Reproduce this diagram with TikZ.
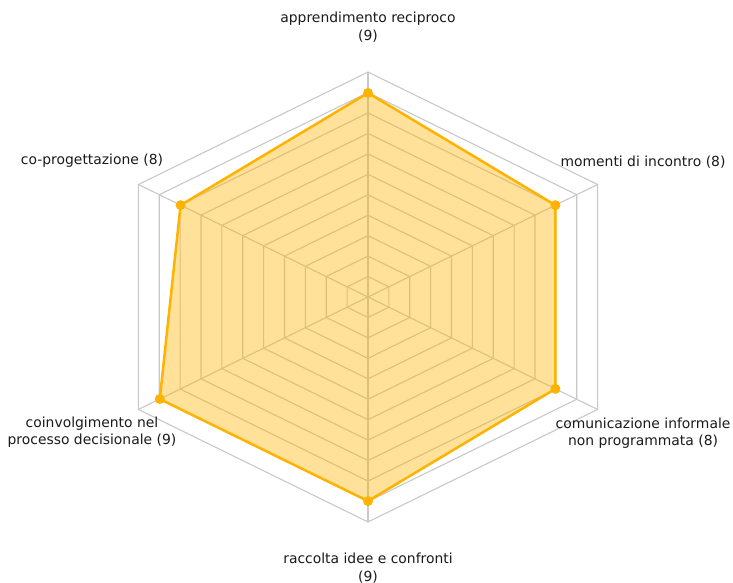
\documentclass[tikz,border=0pt]{standalone}
\usepackage{fontspec}
\setmainfont{DejaVu Sans}
\usepackage{tikz}
\definecolor{radarline}{HTML}{FFB300}
\definecolor{gridgray}{HTML}{C8C8C8}
\definecolor{labelgray}{HTML}{1A1A1A}

\begin{document}
\begin{tikzpicture}[x = 1pt, y = 1pt,
        ring/.style = {draw = gridgray, line width = 1.1pt},
        area/.style = {fill = radarline, fill opacity = 0.4, draw = radarline, draw opacity = 1, line width = 2.5pt, line join = round},
        dot/.style = {circle, fill = radarline, inner sep = 0pt, minimum size = 10pt},
        axislabel/.style = {text = labelgray, font = \fontsize{13.9}{17.5}\selectfont, align = center, inner sep = 0pt}]
    \useasboundingbox (0, 0) rectangle (733, 583);
    \begin{scope}[shift = {(368, 286)}, xscale = 24.1, yscale = 20.45]
        \coordinate (o) at (0, 0);
        % grid rings and spokes
        \foreach \r in {1, ..., 11}
            \draw[ring] (90:\r) -- (30:\r) -- (-30:\r) -- (-90:\r) -- (210:\r) -- (150:\r) -- cycle;
        \foreach \a/\n in {90/a, 30/b, -30/c, -90/d, 210/e, 150/f} {
            \coordinate (rim\n) at (\a:11);
            \draw[ring] (o) -- (rim\n);
        }
        % values
        \foreach \a/\v/\n in {90/10/a, 30/9/b, -30/9/c, -90/10/d, 210/10/e, 150/9/f}
            \coordinate (p\n) at (\a:\v);
        \draw[area] (pa) -- (pb) -- (pc) -- (pd) -- (pe) -- (pf) -- cycle;
        \foreach \n in {a, b, c, d, e, f}
            \node[dot] (dot\n) at (p\n) {};
    \end{scope}
    \node[axislabel] (lbla) at (368, 556) {apprendimento reciproco\\(9)};
    \node[axislabel] (lblb) at (643, 421) {momenti di incontro (8)};
    \node[axislabel] (lblc) at (643, 150) {comunicazione informale\\non programmata (8)};
    \node[axislabel] (lbld) at (368, 15) {raccolta idee e confronti\\(9)};
    \node[axislabel] (lble) at (92, 151) {coinvolgimento nel\\processo decisionale (9)};
    \node[axislabel] (lblf) at (92, 422) {co-progettazione (8)};
\end{tikzpicture}
\end{document}
